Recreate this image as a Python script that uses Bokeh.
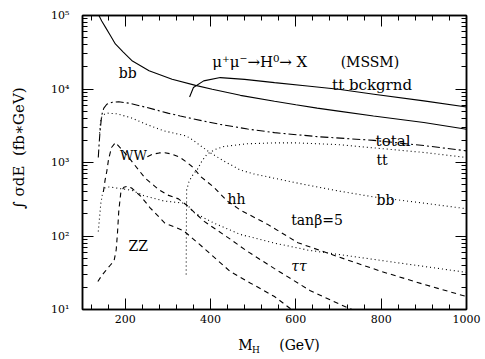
from bokeh.plotting import figure
from bokeh.models import Range1d, FixedTicker, LinearAxis, LogAxis, Label, CustomJSTickFormatter
from bokeh.embed import file_html
from bokeh.resources import INLINE

# ---- data ----
x_ticks = [200, 400, 600, 800, 1000]
x_minor = [120, 160, 240, 280, 320, 360, 440, 480, 520, 560, 640, 680, 720, 760, 840, 880, 920, 960]
y_ticks = [10, 100, 1000, 10000, 100000]
y_minor = [k * 10 ** e for e in range(1, 5) for k in range(2, 10)]

bbbkg_x = [136, 138.5, 145, 154, 165, 177, 195, 217, 256, 310, 365, 404, 470, 550, 600, 650, 700, 782, 900, 1000]
bbbkg_y = [1.1e5, 1.0e5, 8.4e4, 6.9e4, 5.4e4, 4.1e4, 3.2e4, 2.4e4, 1.77e4, 1.36e4, 1.12e4, 9.9e3, 8.2e3, 6.8e3, 6.1e3, 5.5e3, 5.0e3, 4.3e3, 3.5e3, 2.84e3]

ttbkg_x = [351, 360, 384, 423, 480, 550, 627, 700, 783, 900, 1000]
ttbkg_y = [7.8e3, 1.05e4, 1.29e4, 1.43e4, 1.35e4, 1.22e4, 1.1e4, 9.9e3, 8.5e3, 6.9e3, 5.7e3]

total_x = [137, 139, 141, 145, 150, 157, 170, 185, 210, 251, 300, 329, 380, 423, 487, 550, 650, 783, 900, 1000]
total_y = [1.17e3, 1.8e3, 2.6e3, 4.4e3, 5.5e3, 6.2e3, 6.6e3, 6.7e3, 6.4e3, 5.6e3, 4.7e3, 4.3e3, 3.7e3, 3.3e3, 2.85e3, 2.55e3, 2.25e3, 2.0e3, 1.7e3, 1.44e3]

bb_x = [140, 143, 150, 157, 180, 212, 250, 290, 329, 343, 360, 376, 400, 431, 470, 501, 550, 600, 700, 783, 900, 1000]
bb_y = [2.5e3, 4.0e3, 4.5e3, 4.7e3, 4.6e3, 4.1e3, 3.3e3, 2.7e3, 2.4e3, 2.3e3, 2.0e3, 1.7e3, 1.35e3, 1.05e3, 790, 700, 610, 530, 410, 340, 280, 235]

tt_x = [343, 344, 350, 360, 369, 380, 392, 410, 431, 486, 550, 600, 700, 783, 900, 1000]
tt_y = [30, 420, 560, 700, 800, 1.05e3, 1.3e3, 1.5e3, 1.65e3, 1.8e3, 1.85e3, 1.85e3, 1.75e3, 1.58e3, 1.37e3, 1.17e3]

tau_x = [137, 140, 143, 147, 152, 160, 175, 190, 215, 246, 290, 337, 345, 360, 408, 470, 550, 630, 783, 1000]
tau_y = [115, 180, 280, 380, 450, 465, 455, 440, 420, 350, 300, 280, 270, 210, 150, 105, 80, 64, 48, 32]

ww_x = [149, 153, 157, 161, 168, 177, 190, 212, 246, 278, 300, 325, 345, 384, 447, 486, 550, 634, 700, 760]
ww_y = [400, 580, 760, 1100, 1600, 1860, 1550, 1100, 620, 430, 360, 320, 260, 160, 90, 62, 36, 18, 12, 8.5]

hh_x = [252, 265, 280, 293, 310, 329, 345, 360, 376, 408, 439, 470, 533, 605, 700, 800, 900, 1000]
hh_y = [1200, 1300, 1350, 1360, 1300, 1170, 1000, 850, 650, 460, 300, 225, 145, 81, 52, 33, 22, 15]

zz_x = [136, 145, 153, 165, 174, 179, 182, 185, 190, 197, 205, 215, 236, 259, 293, 337, 380, 446, 493, 550, 590]
zz_y = [24, 29, 33, 40, 46, 65, 110, 218, 400, 460, 475, 450, 350, 240, 150, 118, 72, 33, 23, 15, 10]

FONT = "DejaVu Serif"
NB = "\u00a0"

# ---- figure ----
p = figure(width=482, height=358, x_range=Range1d(100, 1000), y_range=Range1d(10, 1e5),
           y_axis_type="log", output_backend="svg", toolbar_location=None,
           min_border_left=82, min_border_right=16, min_border_top=15, min_border_bottom=49)
p.grid.visible = False
p.outline_line_color = "black"
p.outline_line_width = 1.5
p.background_fill_color = "white"
p.border_fill_color = "white"

sup_code = """
const sup = {'0':'\u2070','1':'\u00b9','2':'\u00b2','3':'\u00b3','4':'\u2074','5':'\u2075','6':'\u2076','7':'\u2077','8':'\u2078','9':'\u2079'};
const e = Math.round(Math.log10(tick));
return '10' + String(e).split('').map(c => sup[c]).join('');
"""

def style(ax, ticker, labels=True):
    ax.ticker = ticker
    ax.axis_line_color = "black"
    ax.axis_line_width = 1.5
    ax.major_tick_in = 11
    ax.major_tick_out = 0
    ax.minor_tick_in = 5
    ax.minor_tick_out = 0
    ax.major_tick_line_color = "black"
    ax.minor_tick_line_color = "black"
    ax.major_tick_line_width = 1
    ax.minor_tick_line_width = 1
    ax.major_label_text_font = FONT
    ax.major_label_text_font_size = "11px"
    ax.major_label_text_color = "black"
    ax.axis_label_text_font = FONT
    ax.axis_label_text_font_style = "normal"
    ax.axis_label_text_color = "black"
    if not labels:
        ax.formatter = CustomJSTickFormatter(code="return '';")
        ax.major_label_standoff = 0

style(p.xaxis[0], FixedTicker(ticks=x_ticks, minor_ticks=x_minor))
p.xaxis[0].major_label_standoff = 5
p.xaxis[0].axis_label = NB * 2 + "M" + NB * 6 + "(GeV)"
p.xaxis[0].axis_label_text_font_size = "14px"
p.xaxis[0].axis_label_standoff = 11

style(p.yaxis[0], FixedTicker(ticks=y_ticks, minor_ticks=y_minor))
p.yaxis[0].major_label_standoff = 13
p.yaxis[0].formatter = CustomJSTickFormatter(code=sup_code)
p.yaxis[0].axis_label = NB * 6 + "\u222b" + NB + "\u03c3dE" + NB * 2 + "(fb\u2217GeV)"
p.yaxis[0].axis_label_text_font_size = "15px"
p.yaxis[0].axis_label_standoff = 20

# subscript "H" of M_H as the label of a bare axis below
sub = LinearAxis(ticker=FixedTicker(ticks=[]), axis_line_color=None,
                 major_tick_line_color=None, minor_tick_line_color=None,
                 major_label_standoff=0, axis_label="H" + NB * 13,
                 axis_label_standoff=-11, axis_label_text_font=FONT,
                 axis_label_text_font_size="9px", axis_label_text_font_style="normal",
                 axis_label_text_color="black")
sub.formatter = CustomJSTickFormatter(code="return '';")
p.add_layout(sub, "below")

top = LinearAxis()
style(top, FixedTicker(ticks=x_ticks, minor_ticks=x_minor), labels=False)
p.add_layout(top, "above")
right = LogAxis()
style(right, FixedTicker(ticks=y_ticks, minor_ticks=y_minor), labels=False)
p.add_layout(right, "right")

lw = 1.1
p.line(bbbkg_x, bbbkg_y, line_color="black", line_width=lw)
p.line(ttbkg_x, ttbkg_y, line_color="black", line_width=lw)
p.line(total_x, total_y, line_color="black", line_width=lw, line_dash="8 3 2 3")
p.line(bb_x, bb_y, line_color="black", line_width=lw, line_dash="1 3")
p.line(tt_x, tt_y, line_color="black", line_width=lw, line_dash="1 3")
p.line(tau_x, tau_y, line_color="black", line_width=lw, line_dash="1 3")
p.line(ww_x, ww_y, line_color="black", line_width=lw, line_dash="5 4")
p.line(hh_x, hh_y, line_color="black", line_width=lw, line_dash="5 4")
p.line(zz_x, zz_y, line_color="black", line_width=lw, line_dash="5 4")


def lab(text, x, y, size="14px", style="normal"):
    p.add_layout(Label(x=x, y=y, text=text, text_font=FONT, text_font_size=size,
                       text_font_style=style, text_align="left", text_baseline="alphabetic",
                       text_color="black"))

lab("bb", 185, 1.67e4)
lab("\u03bc\u207a\u03bc\u207b\u2192H\u2070\u2192 X", 404, 2.34e4, size="15px")
lab("(MSSM)", 705, 2.34e4)
lab("tt bckgrnd", 685, 1.14e4, size="15px")
lab("total", 787, 1.96e3, size="15px")
lab("tt", 789, 1.08e3)
lab("bb", 789, 309)
lab("tan\u03b2=5", 589, 165)
lab("\u03c4\u03c4", 589, 39, style="italic")
lab("hh", 440, 318)
lab("WW", 188, 1.26e3, size="13px")
lab("ZZ", 208, 72.8)

open("out.html", "w").write(file_html(p, INLINE))
